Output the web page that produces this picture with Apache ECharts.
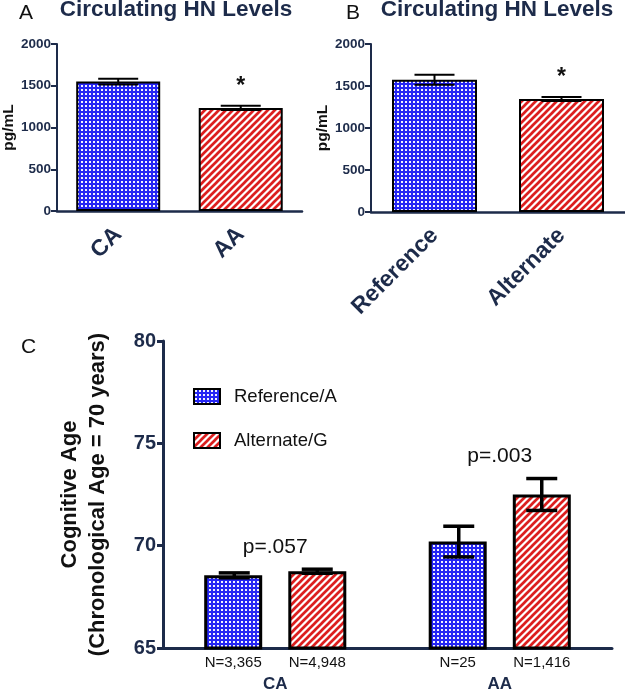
<!DOCTYPE html>
<html>
<head>
<meta charset="utf-8">
<script src="https://cdn.jsdelivr.net/npm/echarts@6/dist/echarts.min.js"></script>
<style>
html,body{margin:0;padding:0;background:#fff;}
#chart{width:625px;height:693px;}
</style>
</head>
<body>
<div id="chart"></div>
<script>
// ---------- data ----------
const panelTitle = 'Circulating HN Levels';
const catsA = ['CA', 'AA'];
const valsA = [1550, 1235];
const errA = [35, 25];
const sigA = ['', '*'];

const catsB = ['Reference', 'Alternate'];
const valsB = [1575, 1345];
const errB = [60, 25];
const sigB = ['', '*'];

const yTicksAB = [0, 500, 1000, 1500, 2000];

const catsC = ['CA', 'AA'];
const seriesNames = ['Reference/A', 'Alternate/G'];
const refC = [68.55, 70.2];
const refErrC = [0.12, 0.75];
const altC = [68.75, 72.5];
const altErrC = [0.1, 0.78];
const refN = ['N=3,365', 'N=25'];
const altN = ['N=4,948', 'N=1,416'];
const pC = ['p=.057', 'p=.003'];
const yTicksC = [65, 70, 75, 80];

// ---------- styles ----------
const FONT = '"Liberation Sans", Arial, Helvetica, sans-serif';
const NAVY = '#1d2b4a';

function makeChecker() {
  const c = document.createElement('canvas');
  c.width = 4; c.height = 4;
  const g = c.getContext('2d');
  g.fillStyle = '#2626f4';
  g.fillRect(0, 0, 4, 4);
  g.fillStyle = '#f2f2ff';
  g.fillRect(1, 1, 2, 2);
  return { image: c, repeat: 'repeat' };
}
function makeHatch() {
  const s = 7;
  const c = document.createElement('canvas');
  c.width = s; c.height = s;
  const g = c.getContext('2d');
  g.fillStyle = '#ffffff';
  g.fillRect(0, 0, s, s);
  g.strokeStyle = '#dc1f1f';
  g.lineWidth = 2.7;
  g.beginPath();
  g.moveTo(-1, s + 1); g.lineTo(s + 1, -1);
  g.moveTo(-1, 1); g.lineTo(1, -1);
  g.moveTo(s - 1, s + 1); g.lineTo(s + 1, s - 1);
  g.stroke();
  return { image: c, repeat: 'repeat' };
}
const bluePat = makeChecker();
const redPat = makeHatch();

function errRenderer(offset, capW, lw, sigArr, sigGap) {
  return function (params, api) {
    const i = api.value(0);
    const m = api.value(1);
    const e = api.value(2);
    const top = api.coord([i, m + e]);
    const bot = api.coord([i, m - e]);
    const x = top[0] + offset;
    const st = { stroke: '#000', lineWidth: lw };
    const children = [
      { type: 'line', shape: { x1: x, y1: top[1], x2: x, y2: bot[1] }, style: st },
      { type: 'line', shape: { x1: x - capW / 2, y1: top[1], x2: x + capW / 2, y2: top[1] }, style: st },
      { type: 'line', shape: { x1: x - capW / 2, y1: bot[1], x2: x + capW / 2, y2: bot[1] }, style: st }
    ];
    if (sigArr && sigArr[params.dataIndex]) {
      children.push({
        type: 'text',
        style: {
          text: sigArr[params.dataIndex], x: x, y: top[1] - sigGap,
          align: 'center', verticalAlign: 'middle',
          fontSize: 23, fontWeight: 'bold', fontFamily: FONT, fill: '#111'
        }
      });
    }
    return { type: 'group', children: children };
  };
}

function pRenderer(params, api) {
  const i = api.value(0);
  const t = api.value(1);
  const c = api.coord([i, t]);
  return {
    type: 'text',
    style: {
      text: pC[params.dataIndex], x: c[0], y: c[1] - 22,
      align: 'center', verticalAlign: 'middle',
      fontSize: 21, fontFamily: FONT, fill: '#111'
    }
  };
}

function valueAxisAB(gridIndex) {
  return {
    gridIndex: gridIndex, type: 'value',
    min: yTicksAB[0], max: yTicksAB[yTicksAB.length - 1], interval: 500,
    axisLine: { show: true, lineStyle: { color: NAVY, width: 2 } },
    axisTick: { show: true, length: 6, lineStyle: { color: NAVY, width: 2 } },
    splitLine: { show: false },
    axisLabel: { fontSize: 13.5, fontWeight: 'bold', color: NAVY, fontFamily: FONT, margin: 6,
      formatter: (v) => String(v) },
    name: 'pg/mL', nameLocation: 'middle', nameRotate: 90, nameGap: 37,
    nameTextStyle: { fontSize: 15.5, fontWeight: 'bold', color: '#111', fontFamily: FONT }
  };
}
function catAxisAB(gridIndex, cats) {
  return {
    gridIndex: gridIndex, type: 'category', data: cats,
    axisLine: { lineStyle: { color: NAVY, width: 2.5 } },
    axisTick: { alignWithLabel: true, length: 7, lineStyle: { color: NAVY, width: 2.5 } },
    axisLabel: { rotate: 45, fontSize: 23, fontWeight: 'bold', color: NAVY, fontFamily: FONT, margin: 20 }
  };
}

const chart = echarts.init(document.getElementById('chart'), null, { renderer: 'canvas' });

const cTop = catsC.map((c, i) => Math.max(refC[i] + refErrC[i], altC[i] + altErrC[i]));

const option = {
  animation: false,
  backgroundColor: '#fff',
  grid: [
    { left: 52, top: 44, width: 250, height: 167 },
    { left: 371, top: 44, width: 254, height: 168 },
    { left: 163, top: 341, width: 449, height: 313 }
  ],
  graphic: [
    { type: 'text', x: 19, y: 3, style: { text: 'A', fontSize: 21, fill: '#111', fontFamily: FONT } },
    { type: 'text', x: 346, y: 3, style: { text: 'B', fontSize: 21, fill: '#111', fontFamily: FONT } },
    { type: 'text', x: 21, y: 337, style: { text: 'C', fontSize: 21, fill: '#111', fontFamily: FONT } },
    { type: 'text', x: 176, y: -2, style: { text: panelTitle, align: 'center', fontSize: 22.5, fontWeight: 'bold', fill: NAVY, fontFamily: FONT } },
    { type: 'text', x: 497, y: -2, style: { text: panelTitle, align: 'center', fontSize: 22.5, fontWeight: 'bold', fill: NAVY, fontFamily: FONT } }
  ],
  legend: {
    data: seriesNames, orient: 'vertical', left: 188, top: 382,
    itemWidth: 26, itemHeight: 15, itemGap: 25, icon: 'rect',
    textStyle: { fontSize: 18.5, color: '#111', fontFamily: FONT, padding: [0, 0, 0, 9] }
  },
  xAxis: [
    catAxisAB(0, catsA),
    catAxisAB(1, catsB),
    {
      gridIndex: 2, type: 'category', data: catsC,
      axisLine: { lineStyle: { color: NAVY, width: 3 } },
      axisTick: { alignWithLabel: true, length: 6, lineStyle: { color: NAVY, width: 3 } },
      axisLabel: { fontSize: 17, fontWeight: 'bold', color: NAVY, fontFamily: FONT, margin: 28 }
    }
  ],
  yAxis: [
    valueAxisAB(0),
    valueAxisAB(1),
    {
      gridIndex: 2, type: 'value', min: yTicksC[0], max: yTicksC[yTicksC.length - 1], interval: 5,
      axisLine: { show: true, lineStyle: { color: NAVY, width: 3 } },
      axisTick: { show: true, length: 6, lineStyle: { color: NAVY, width: 3 } },
      splitLine: { show: false },
      axisLabel: { fontSize: 20, fontWeight: 'bold', color: NAVY, fontFamily: FONT, margin: 7 },
      name: 'Cognitive Age\n(Chronological Age = 70 years)',
      nameLocation: 'middle', nameRotate: 90, nameGap: 51,
      nameTextStyle: { fontSize: 22, fontWeight: 'bold', color: '#111', fontFamily: FONT, lineHeight: 28, align: 'center' }
    }
  ],
  series: [
    {
      type: 'bar', xAxisIndex: 0, yAxisIndex: 0, barWidth: 84,
      data: valsA.map((v, i) => ({ value: v, itemStyle: { color: i === 0 ? bluePat : redPat } })),
      itemStyle: { borderColor: '#000', borderWidth: 2 }
    },
    {
      type: 'custom', name: 'errA', xAxisIndex: 0, yAxisIndex: 0, z: 5,
      encode: { x: 0, y: [1] },
      data: valsA.map((v, i) => [i, v, errA[i]]),
      renderItem: errRenderer(0, 40, 2, sigA, 19)
    },
    {
      type: 'bar', xAxisIndex: 1, yAxisIndex: 1, barWidth: 85,
      data: valsB.map((v, i) => ({ value: v, itemStyle: { color: i === 0 ? bluePat : redPat } })),
      itemStyle: { borderColor: '#000', borderWidth: 2 }
    },
    {
      type: 'custom', name: 'errB', xAxisIndex: 1, yAxisIndex: 1, z: 5,
      encode: { x: 0, y: [1] },
      data: valsB.map((v, i) => [i, v, errB[i]]),
      renderItem: errRenderer(0, 40, 2, sigB, 19)
    },
    {
      type: 'bar', name: seriesNames[0], xAxisIndex: 2, yAxisIndex: 2,
      barWidth: 58, barGap: '45%', data: refC,
      itemStyle: { color: bluePat, borderColor: '#000', borderWidth: 3 },
      label: { show: true, position: 'bottom', distance: 6, fontSize: 15, color: '#111', fontFamily: FONT,
        formatter: (p) => refN[p.dataIndex] }
    },
    {
      type: 'bar', name: seriesNames[1], xAxisIndex: 2, yAxisIndex: 2,
      barWidth: 58, barGap: '45%', data: altC,
      itemStyle: { color: redPat, borderColor: '#000', borderWidth: 3 },
      label: { show: true, position: 'bottom', distance: 6, fontSize: 15, color: '#111', fontFamily: FONT,
        formatter: (p) => altN[p.dataIndex] }
    },
    {
      type: 'custom', name: 'errRefC', xAxisIndex: 2, yAxisIndex: 2, z: 5,
      encode: { x: 0, y: [1] },
      data: refC.map((v, i) => [i, v, refErrC[i]]),
      renderItem: errRenderer(-41, 31, 3.5, null, 0)
    },
    {
      type: 'custom', name: 'errAltC', xAxisIndex: 2, yAxisIndex: 2, z: 5,
      encode: { x: 0, y: [1] },
      data: altC.map((v, i) => [i, v, altErrC[i]]),
      renderItem: errRenderer(42, 31, 3.5, null, 0)
    },
    {
      type: 'custom', name: 'pvals', xAxisIndex: 2, yAxisIndex: 2, z: 6,
      encode: { x: 0, y: [1] },
      data: cTop.map((t, i) => [i, t]),
      renderItem: pRenderer
    }
  ]
};
chart.setOption(option);
</script>
</body>
</html>
